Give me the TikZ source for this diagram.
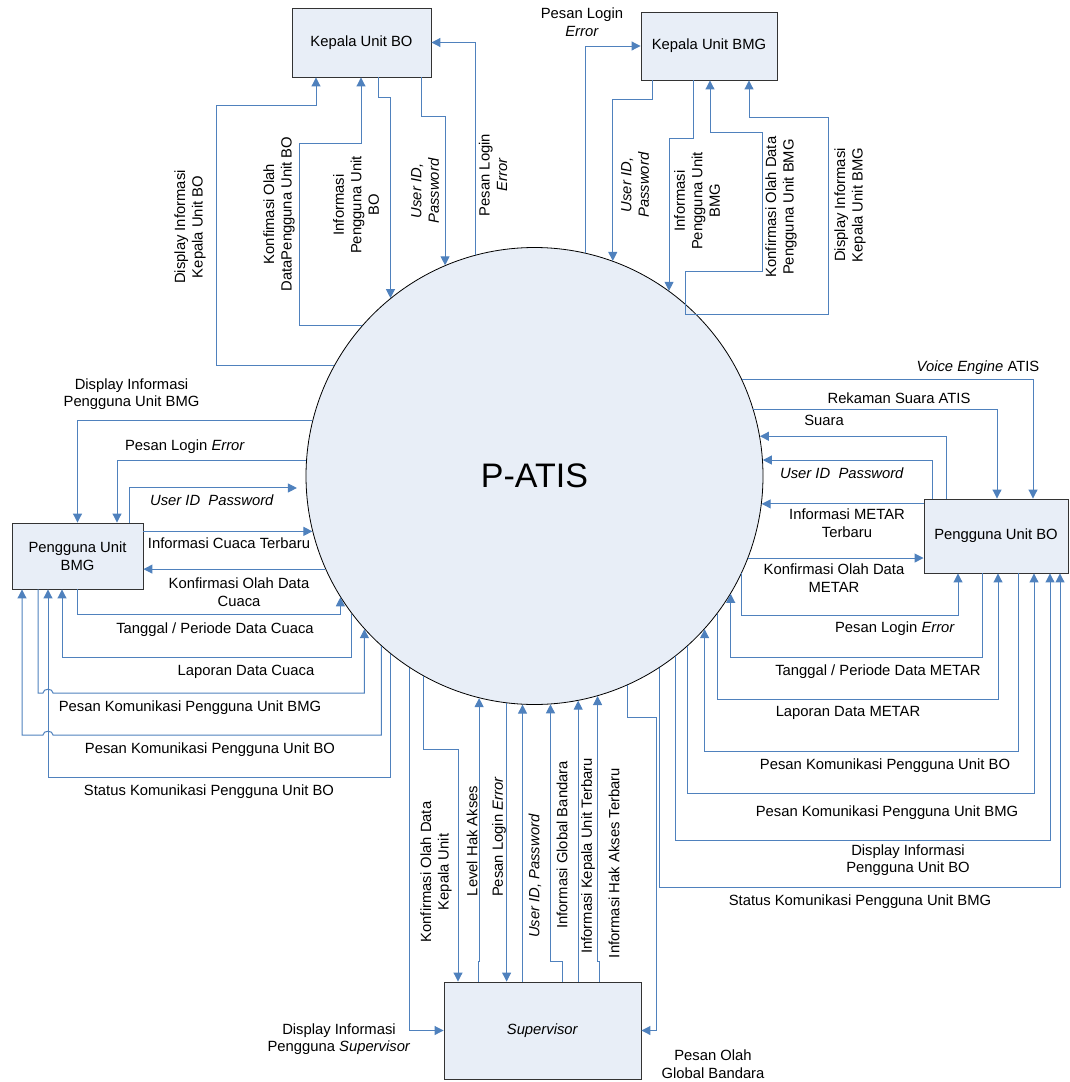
\documentclass[tikz,border=0pt]{standalone}
\usepackage{fontspec}
\setmainfont{Liberation Sans}
\usepackage{tikz}
\usetikzlibrary{arrows.meta}
\definecolor{flow}{RGB}{79,129,189}
\definecolor{boxfill}{RGB}{232,238,247}
\newcommand{\lblsize}{\fontsize{14.8}{17.5}\selectfont}

\begin{document}
\begin{tikzpicture}[x=1pt, y=-1pt,
      blk/.style={draw=black!80, fill=boxfill, line width=0.9pt, align=center,
                  font=\lblsize, inner sep=2pt},
      proc/.style={circle, draw=black, fill=boxfill, line width=0.8pt,
                   minimum size=457pt, inner sep=0pt, font=\fontsize{34}{40}\selectfont},
      arr/.style={draw=flow, line width=1pt, -{Triangle[length=9pt, width=9pt]}},
      lbl/.style={align=center, font=\lblsize, inner sep=1pt},
      vlbl/.style={lbl, rotate=90}]
    \useasboundingbox (0,0) rectangle (1069,1082);
    \node[proc] (patis) at (534.5,476) {P-ATIS};
    \node[blk, minimum width=139pt, minimum height=69pt] (kbo) at (361.5,42.5) {Kepala Unit BO};
    \node[blk, minimum width=136pt, minimum height=68pt] (kbmg) at (709,46) {Kepala Unit BMG};
    \node[blk, minimum width=131pt, minimum height=66pt] (pbmg) at (77.5,556) {Pengguna Unit\\BMG};
    \node[blk, minimum width=144pt, minimum height=74pt] (pbo) at (996,536) {Pengguna Unit BO};
    \node[blk, minimum width=197pt, minimum height=97pt] (spv) at (542.5,1030.5) {\textit{Supervisor}};
    % Kepala Unit BO
    \draw[arr] (patis.151.8) -| (216,105) -| ([xshift=-45.5pt]kbo.south);
    \draw[arr] (patis.139) -| (299,143) -| ([xshift=-0.5pt]kbo.south);
    \draw[arr] ([xshift=16.5pt]kbo.south) -- ++(0,20) -| (patis.129.9);
    \draw[arr] ([xshift=59.5pt]kbo.south) -- ++(0,39) -| (patis.113.6);
    \draw[arr] (patis.105.9) |- (kbo.east);
    \node[vlbl] (lDispKbo) at (190,227) {Display Informasi\\Kepala Unit BO};
    \node[vlbl] (lKonfKbo) at (279,214) {Konfimasi Olah\\DataPengguna Unit BO};
    \node[vlbl] (lInfoKbo) at (356,205) {Informasi\\Pengguna Unit\\BO};
    \node[vlbl] (lUserKbo) at (425,191) {\textit{User ID,}\\\textit{Password}};
    \node[vlbl] (lErrKbo) at (493,175) {Pesan Login\\\textit{Error}};
    % Kepala Unit BMG
    \draw[arr] (patis.77) |- (kbmg.west);
    \draw[arr] ([xshift=-57pt]kbmg.south) -- ++(0,19) -| (patis.70.2);
    \draw[arr] ([xshift=-16pt]kbmg.south) -- ++(0,58) -| (patis.54.6);
    \draw[arr] ([xshift=-11pt]patis.45.5) -- ++(0,-43) -| (762,132) -| ([xshift=1pt]kbmg.south);
    \draw[arr] ([xshift=-11pt]patis.45.5) -| (828,117) -| ([xshift=40pt]kbmg.south);
    \node[lbl] (lErrKbmg) at (582,22) {Pesan Login\\\textit{Error}};
    \node[vlbl] (lUserKbmg) at (635,185) {\textit{User ID,}\\\textit{Password}};
    \node[vlbl] (lInfoKbmg) at (697,201) {Informasi\\Pengguna Unit\\BMG};
    \node[vlbl] (lKonfKbmg) at (781,207) {Konfirmasi Olah Data\\Pengguna Unit BMG};
    \node[vlbl] (lDispKbmg) at (850,205) {Display Informasi\\Kepala Unit BMG};
    % Pengguna Unit BMG
    \draw[arr] (patis.166.3) -| (pbmg.north);
    \draw[arr] (patis.176.5) -| ([xshift=39.5pt]pbmg.north);
    \draw[arr] ([xshift=51.5pt]pbmg.north) |- ([xshift=-9pt]patis.183);
    \draw[arr] (pbmg.east |- patis.194.4) -- (patis.194.4);
    \draw[arr] (patis.204) -- (pbmg.east |- patis.204);
    \draw[arr] (pbmg.south) -- ++(0,25) -| (patis.212.1);
    \draw[arr] (patis.217.4) |- (62,657) -- ([xshift=-15.5pt]pbmg.south);
    \draw[arr] ([xshift=-39.5pt]pbmg.south) |- (43,693) .. controls (43,688) and (53,688) .. (53,693) -| (patis.222.5);
    \draw[arr] (patis.228.1) |- (53,735) .. controls (53,730) and (43,730) .. (43,735) -| ([xshift=-55.5pt]pbmg.south);
    \draw[arr] (patis.231.7) |- (48,777) -- ([xshift=-29.5pt]pbmg.south);
    \node[lbl] (lDispPbmg) at (131.5,394) {Display Informasi\\Pengguna Unit BMG};
    \node[lbl] (lErrPbmg) at (185,447) {Pesan Login \textit{Error}};
    \node[lbl] (lUserPbmg) at (212,500) {\textit{User ID\ \ Password}};
    \node[lbl] (lCuaca) at (229,543) {Informasi Cuaca Terbaru};
    \node[lbl] (lKonfCuaca) at (239,592) {Konfirmasi Olah Data\\Cuaca};
    \node[lbl] (lTglCuaca) at (215,630) {Tanggal / Periode Data Cuaca};
    \node[lbl] (lLapCuaca) at (246,672) {Laporan Data Cuaca};
    \node[lbl] (lKomBmgL) at (190,708) {Pesan Komunikasi Pengguna Unit BMG};
    \node[lbl] (lKomBoL) at (210,750) {Pesan Komunikasi Pengguna Unit BO};
    \node[lbl] (lStatBo) at (209,792) {Status Komunikasi Pengguna Unit BO};
    % Supervisor
    \draw[arr] (patis.237) |- (spv.west);
    \draw[arr] (patis.241.7) |- (458,749) -| ([xshift=-84.5pt]spv.north);
    \draw[arr] ([xshift=-64.5pt]spv.north) -- ++(0,-20) -| (patis.256.7);
    \draw[arr] (patis.263.6) -- (patis.263.6 |- spv.north);
    \draw[arr] (patis.267.6 |- spv.north) -- (patis.267.6);
    \draw[arr] ([xshift=19.5pt]spv.north) -- ++(0,-20) -| (patis.274.1);
    \draw[arr] (patis.281 |- spv.north) -- (patis.281);
    \draw[arr] ([xshift=56.5pt]spv.north) -- ++(0,-20) -| (patis.286.9);
    \draw[arr] (patis.294.4) |- (656,717) |- (spv.east);
    \node[lbl] (lDispSpv) at (339,1039) {Display Informasi\\Pengguna \textit{Supervisor}};
    \node[vlbl] (lKonfSpv) at (436,872) {Konfirmasi Olah Data\\Kepala Unit};
    \node[vlbl] (lLevel) at (472,841) {Level Hak Akses};
    \node[vlbl] (lErrSpv) at (499,837) {Pesan Login \textit{Error}};
    \node[vlbl] (lUserSpv) at (535,876) {\textit{User ID, Password}};
    \node[vlbl] (lGlobal) at (562,845) {Informasi Global Bandara};
    \node[vlbl] (lKepala) at (588,856) {Informasi Kepala Unit Terbaru};
    \node[vlbl] (lHak) at (614,863) {Informasi Hak Akses Terbaru};
    \node[lbl] (lOlahGlobal) at (713,1064) {Pesan Olah\\Global Bandara};
    % Pengguna Unit BO
    \draw[arr] (patis.25.4) -| ([xshift=37pt]pbo.north);
    \draw[arr] (patis.17.8) -| ([xshift=1pt]pbo.north);
    \draw[arr] ([xshift=-50pt]pbo.north) |- (patis.10.8);
    \draw[arr] ([xshift=-64pt]pbo.north) |- (patis.4.5);
    \draw[arr] (pbo.west |- patis.353) -- (patis.353);
    \draw[arr] (patis.339.2) -- (pbo.west |- patis.339.2);
    \draw[arr] (patis.335.8) |- (958,615) -- ([xshift=-38pt]pbo.south);
    \draw[arr] ([xshift=-14pt]pbo.south) -- ++(0,84) -| (patis.329.8);
    \draw[arr] (patis.323.4) |- (998,699) -- ([xshift=2pt]pbo.south);
    \draw[arr] ([xshift=22pt]pbo.south) -- ++(0,178) -| (patis.318.6);
    \draw[arr] (patis.312.2) |- (1034,793) -- ([xshift=38pt]pbo.south);
    \draw[arr] (patis.308.3) |- (1050,840) -- ([xshift=54pt]pbo.south);
    \draw[arr] (patis.303.9) |- (1060,887) -- ([xshift=64pt]pbo.south);
    \node[lbl] (lVoice) at (978,368) {\textit{Voice Engine} ATIS};
    \node[lbl] (lRekam) at (899,398) {Rekaman Suara ATIS};
    \node[lbl] (lSuara) at (824,420) {Suara};
    \node[lbl] (lUserPbo) at (842,473) {\textit{User ID\ \ Password}};
    \node[lbl] (lMetar) at (847,523) {Informasi METAR\\Terbaru};
    \node[lbl] (lKonfMetar) at (834,578) {Konfirmasi Olah Data\\METAR};
    \node[lbl] (lErrPbo) at (895,629) {Pesan Login \textit{Error}};
    \node[lbl] (lTglMetar) at (878,672) {Tanggal / Periode Data METAR};
    \node[lbl] (lLapMetar) at (848,713) {Laporan Data METAR};
    \node[lbl] (lKomBoR) at (885,766) {Pesan Komunikasi Pengguna Unit BO};
    \node[lbl] (lKomBmgR) at (887,813) {Pesan Komunikasi Pengguna Unit BMG};
    \node[lbl] (lDispPbo) at (908,860) {Display Informasi\\Pengguna Unit BO};
    \node[lbl] (lStatBmg) at (860,902) {Status Komunikasi Pengguna Unit BMG};
  \end{tikzpicture}
\end{document}
